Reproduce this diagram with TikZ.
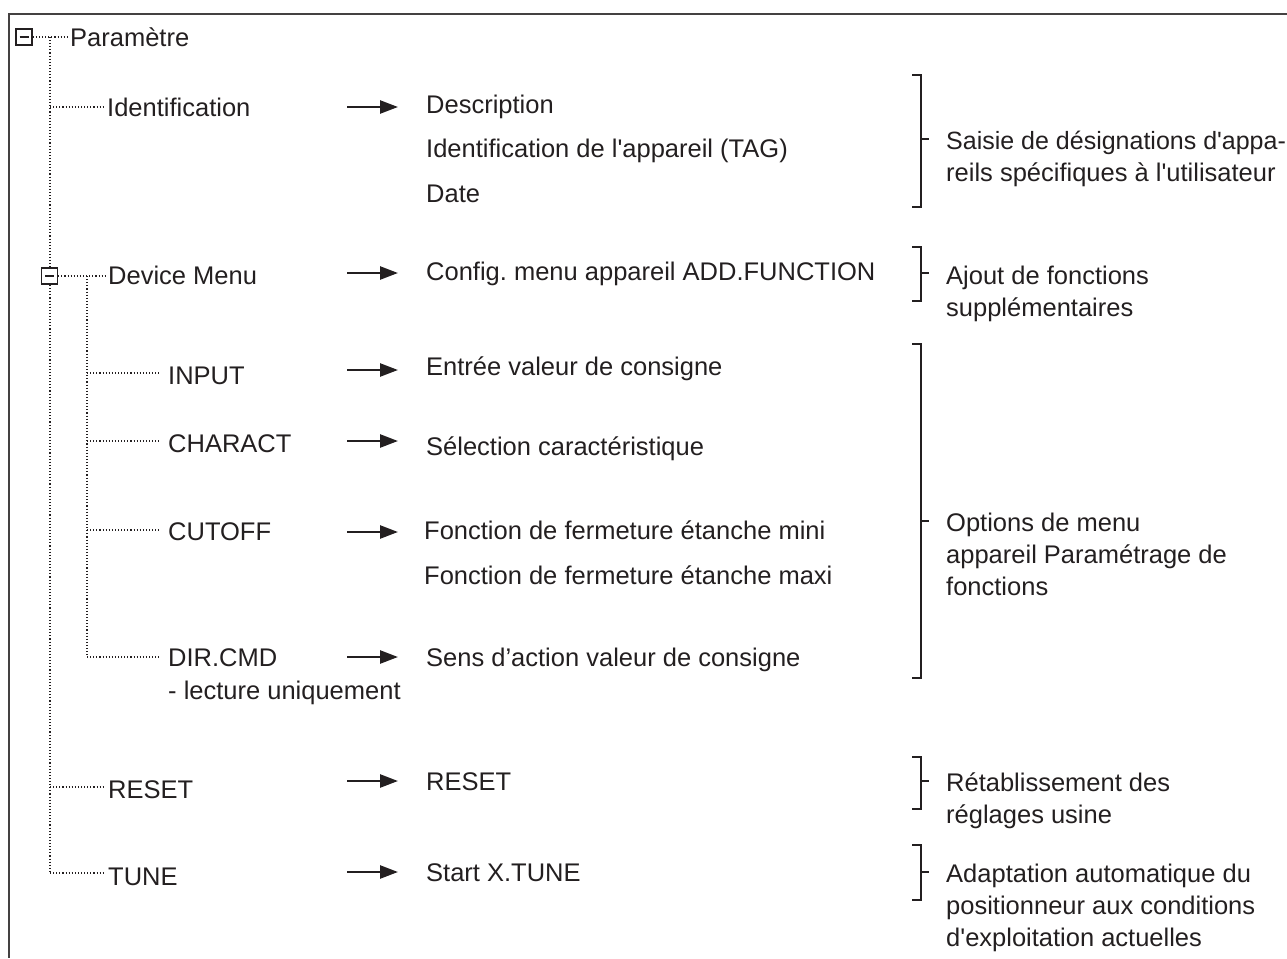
\documentclass[tikz,border=0pt]{standalone}
\usepackage{fontspec}
\setmainfont{Liberation Sans}[Ligatures=TeXOff]
\usetikzlibrary{arrows.meta}
\definecolor{ink}{HTML}{231F20}
\begin{document}
\frenchspacing
\begin{tikzpicture}[x=1pt,y=-1pt,
  txt/.style={anchor=base west, inner sep=0pt, text=ink, font=\fontsize{25.5}{32}\selectfont},
  dot/.style={draw=ink, line width=1.2pt, dash pattern=on 1.1pt off 2pt},
  arr/.style={draw=ink, line width=2.5pt, -{Triangle[length=18pt,width=13pt]}},
  brk/.style={draw=ink, line width=1.5pt},
  frame/.style={draw=ink!85, line width=2pt},
  minusbox/.style={draw=ink, fill=white, line width=1.4pt, minimum size=16pt, inner sep=0pt,
    path picture={\draw[ink,line width=1.4pt] ([xshift=-4.5pt]path picture bounding box.center) -- ([xshift=4.5pt]path picture bounding box.center);}}
]
\useasboundingbox (0,0) rectangle (1287,958);
% frame
\coordinate (fr1) at (1287,14);
\coordinate (fr2) at (9,14);
\coordinate (fr3) at (9,958);
\draw[frame] (fr1) -- (fr2) -- (fr3);

% left tree texts
\node[txt] (param) at (70,47) {Paramètre};
\node[txt] (ident) at (107,116) {Identification};
\node[txt] (devm) at (108,284) {Device Menu};
\node[txt] (input) at (168,384) {INPUT};
\node[txt] (charact) at (168,452) {CHARACT};
\node[txt] (cutoff) at (168,540) {CUTOFF};
\node[txt] (dircmd) at (168,666) {DIR.CMD};
\node[txt] (lect) at (168,699) {- lecture uniquement};
\node[txt] (resetl) at (108,798) {RESET};
\node[txt] (tunel) at (108,885) {TUNE};

% tree junctions
\coordinate (v0) at (50,37);
\coordinate (j1) at (50,107);
\coordinate (jd) at (50,276);
\coordinate (jr) at (50,787);
\coordinate (jt) at (50,873);
\coordinate (w0) at (87,276);
\coordinate (k1) at (87,373);
\coordinate (k2) at (87,441);
\coordinate (k3) at (87,530);
\coordinate (k4) at (87,657);

\draw[dot] (v0) -- (jt);
\draw[dot] (w0) -- (k4);
\draw[dot] (j1) -- ([xshift=-3pt]j1 -| ident.west);
\draw[dot] (jr) -- ([xshift=-4pt]jr -| resetl.west);
\draw[dot] (jt) -- ([xshift=-4pt]jt -| tunel.west);
\draw[dot] (k1) -- ([xshift=-8pt]k1 -| input.west);
\draw[dot] (k2) -- ([xshift=-8pt]k2 -| charact.west);
\draw[dot] (k3) -- ([xshift=-8pt]k3 -| cutoff.west);
\draw[dot] (k4) -- ([xshift=-8pt]k4 -| dircmd.west);

\node[minusbox] (pbox) at (24,37) {};
\node[minusbox] (dbox) at (49.5,276) {};
\draw[dot] (pbox.east) -- ([xshift=-2pt]pbox.east -| param.west);
\draw[dot] (dbox.east) -- ([xshift=-3pt]dbox.east -| devm.west);

% right texts
\node[txt] (desc) at (426,113) {Description};
\node[txt] (tag) at (426,157) {Identification de l'appareil (TAG)};
\node[txt] (date) at (426,202) {Date};
\node[txt] (config) at (426,280) {Config. menu appareil ADD.FUNCTION};
\node[txt] (entree) at (426,375) {Entrée valeur de consigne};
\node[txt] (select) at (426,455) {Sélection caractéristique};
\node[txt] (fmini) at (424,539) {Fonction de fermeture étanche mini};
\node[txt] (fmaxi) at (424,584) {Fonction de fermeture étanche maxi};
\node[txt] (sens) at (426,666) {Sens d’action valeur de consigne};
\node[txt] (resetr) at (426,790) {RESET};
\node[txt] (start) at (426,881) {Start X.TUNE};

% arrows
\foreach \n/\y in {a1/107,a2/273,a3/370,a4/441,a5/532,a6/657,a7/781,a8/872}{
  \coordinate (\n s) at (347,\y);
  \coordinate (\n e) at (398,\y);
  \draw[arr] (\n s) -- (\n e);
}

% brackets
\foreach \t/\b/\m in {75/207/139, 247/301/273, 344/678/521, 757/809/781, 845/900/872}{
  \draw[brk] (912,\t) -- (921,\t) -- (921,\b) -- (912,\b);
  \draw[brk] (921,\m) -- (929,\m);
}

% bracket texts
\node[txt, font=\fontsize{25}{32}\selectfont] (b1a) at (946,149) {Saisie de désignations d'appa-};
\node[txt] (b1b) at (946,181) {reils spécifiques à l'utilisateur};
\node[txt] (b2a) at (946,284) {Ajout de fonctions};
\node[txt] (b2b) at (946,316) {supplémentaires};
\node[txt] (b3a) at (946,531) {Options de menu};
\node[txt] (b3b) at (946,563) {appareil Paramétrage de};
\node[txt] (b3c) at (946,595) {fonctions};
\node[txt] (b4a) at (946,791) {Rétablissement des};
\node[txt] (b4b) at (946,823) {réglages usine};
\node[txt] (b5a) at (946,882) {Adaptation automatique du};
\node[txt] (b5b) at (946,914) {positionneur aux conditions};
\node[txt] (b5c) at (946,946) {d'exploitation actuelles};
\end{tikzpicture}
\end{document}
